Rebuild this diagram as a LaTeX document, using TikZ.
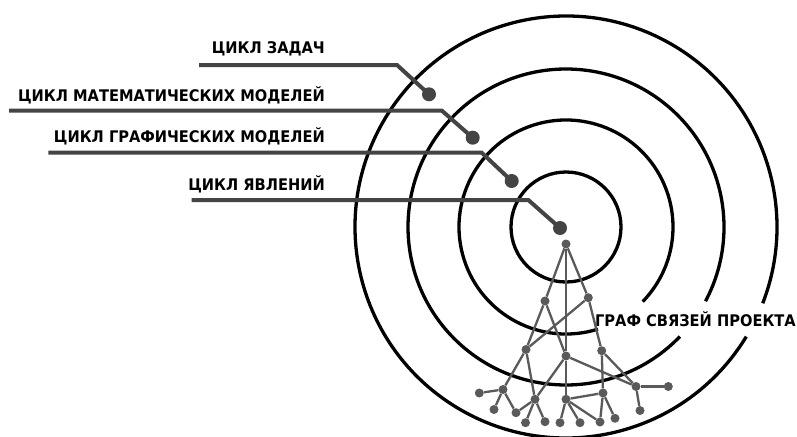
\documentclass[tikz,border=0pt]{standalone}
\usepackage{fontspec}
\setmainfont{DejaVu Sans}[FakeStretch=0.915]
\definecolor{leadergray}{HTML}{444444}
\definecolor{treegray}{HTML}{5A5A5A}
\begin{document}
\begin{tikzpicture}[x=1pt,y=-1pt,
  ring/.style={line width=3.3pt, draw=black},
  leader/.style={line width=4pt, draw=leadergray},
  leaderdot/.style={circle, fill=leadergray, inner sep=0pt, minimum size=14pt},
  cyclelabel/.style={font=\fontsize{16}{19}\selectfont\bfseries, inner sep=0pt, text=black},
  gnode/.style={circle, fill=treegray, inner sep=0pt, minimum size=9pt},
  gedge/.style={line width=2.3pt, draw=treegray},
]
% canvas
\fill[white] (0,0) rectangle (797,436);
\clip (0,0) rectangle (797,436);
\useasboundingbox (0,0) rectangle (797,436);

% concentric rings, opened where the graph caption passes
\coordinate (ctr) at (566,227);
\draw[ring] (ctr) circle[radius=55];
\draw[ring] (ctr) ++(72.6:107) arc[start angle=72.6, end angle=404.2, radius=107];
\draw[ring] (ctr) ++(43.9:158) arc[start angle=43.9, end angle=388, radius=158];
\draw[ring] (ctr) ++(31.3:211) arc[start angle=31.3, end angle=381.2, radius=211];

% caption of the graph
\node[cyclelabel, anchor=base east] (graphlabel) at (796,326) {ГРАФ СВЯЗЕЙ ПРОЕКТА};

% project graph
\foreach \n/\px/\py in {R/566/244, A/545/301, B/588.3/297.7, C/526/349.5, D/566/356,
    E/601.7/350.7, F/503/389.5, G/479.3/393, H/494/409.5, I/516/412.7, J/535/399.3,
    K/525.5/422.7, L/545/421.7, M/566/399.3, N/560/422.7, O/580/422.7, P/603/393,
    Q/600/422, S/615/418.3, T/636/386.5, U/668.3/386.5, V/640/410.5}
  \node[gnode] (\n) at (\px,\py) {};
\foreach \a/\b in {R/A, R/B, R/D, D/M, A/C, A/D, B/C, B/E, C/F, C/J, D/J, D/T,
    E/P, E/T, T/U, T/V, F/G, F/H, F/I, I/J, J/K, J/L, M/N, M/O, M/Q, M/P, P/Q, P/S}
  \draw[gedge] (\a) -- (\b);

% cycle labels with leader lines to their rings
\node[cyclelabel, anchor=base east] (l1) at (325,53.3) {ЦИКЛ ЗАДАЧ};
\node[cyclelabel, anchor=base east] (l2) at (325,101.5) {ЦИКЛ МАТЕМАТИЧЕСКИХ МОДЕЛЕЙ};
\node[cyclelabel, anchor=base east] (l3) at (325,142) {ЦИКЛ ГРАФИЧЕСКИХ МОДЕЛЕЙ};
\node[cyclelabel, anchor=base east] (l4) at (325,190) {ЦИКЛ ЯВЛЕНИЙ};

\node[leaderdot] (d1) at (429,94.3) {};
\node[leaderdot] (d2) at (472.7,137.7) {};
\node[leaderdot] (d3) at (511.7,181) {};
\node[leaderdot] (d4) at (560,228) {};

\coordinate (s1) at (199,65);    \coordinate (k1) at (397,65);
\coordinate (s2) at (9,110.5);   \coordinate (k2) at (441.7,110.5);
\coordinate (s3) at (48.3,152.7); \coordinate (k3) at (481.7,152.7);
\coordinate (s4) at (191.7,200); \coordinate (k4) at (528.3,200);

\draw[leader] (s1) -- (k1) -- (d1.center);
\draw[leader] (s2) -- (k2) -- (d2.center);
\draw[leader] (s3) -- (k3) -- (d3.center);
\draw[leader] (s4) -- (k4) -- (d4.center);
\end{tikzpicture}
\end{document}
